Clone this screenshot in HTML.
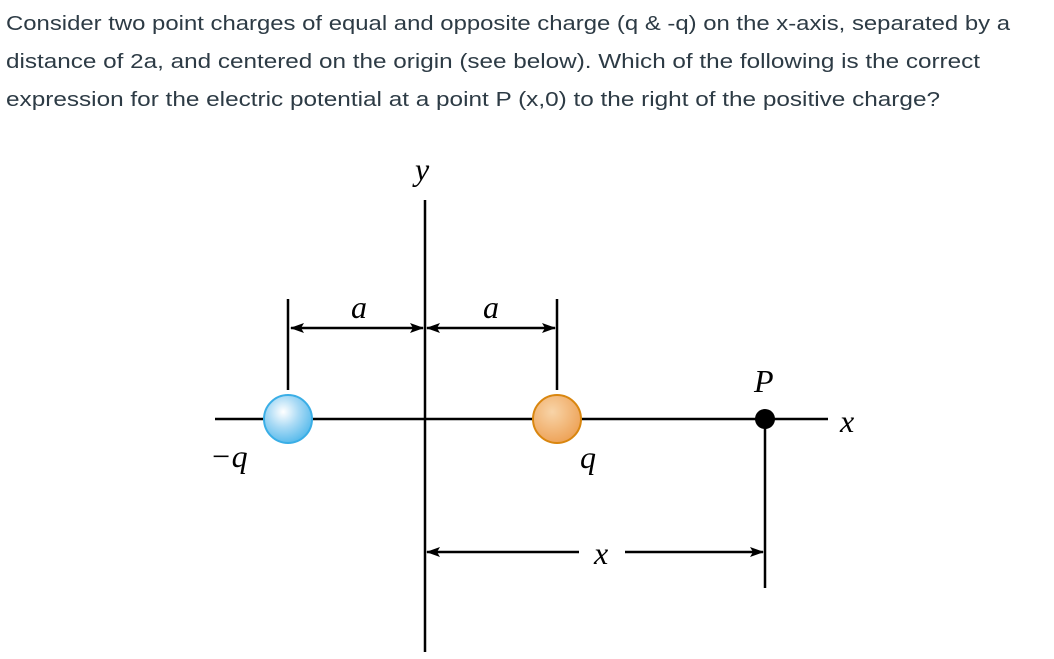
<!DOCTYPE html>
<html><head><meta charset="utf-8"><style>
html,body{margin:0;padding:0;background:#fff;}
svg{display:block;}
</style></head><body>
<svg width="1054" height="659" viewBox="0 0 1054 659" xmlns="http://www.w3.org/2000/svg">
<defs>
<radialGradient id="gb" cx="0.4" cy="0.35" r="0.65">
<stop offset="0" stop-color="#ffffff"/><stop offset="0.15" stop-color="#e6f4fc"/><stop offset="0.5" stop-color="#a9daf5"/><stop offset="1" stop-color="#5cbcec"/></radialGradient>
<radialGradient id="go" cx="0.4" cy="0.35" r="0.65">
<stop offset="0" stop-color="#f8d4a8"/><stop offset="1" stop-color="#eea45a"/></radialGradient>
<marker id="ah" markerWidth="14" markerHeight="10" refX="13" refY="5" orient="auto-start-reverse" markerUnits="userSpaceOnUse">
<path d="M0,0 L14,5 L0,10 L3,5 Z" fill="#000"/></marker>
</defs>
<g font-family="Liberation Sans, sans-serif" font-size="20" fill="#2d3b45">
<text x="6" y="30" textLength="1004" lengthAdjust="spacingAndGlyphs">Consider two point charges of equal and opposite charge (q &amp; -q) on the x-axis, separated by a</text>
<text x="6" y="68" textLength="974" lengthAdjust="spacingAndGlyphs">distance of 2a, and centered on the origin (see below). Which of the following is the correct</text>
<text x="6" y="106" textLength="934" lengthAdjust="spacingAndGlyphs">expression for the electric potential at a point P (x,0) to the right of the positive charge?</text>
</g>
<g stroke="#000" stroke-width="2.5" fill="none">
<line x1="425" y1="200" x2="425" y2="652"/>
<line x1="215" y1="419" x2="828" y2="419"/>
<line x1="288" y1="299" x2="288" y2="390"/>
<line x1="557" y1="299" x2="557" y2="390"/>
<line x1="291" y1="328" x2="423" y2="328" marker-start="url(#ah)" marker-end="url(#ah)"/>
<line x1="427" y1="328" x2="555" y2="328" marker-start="url(#ah)" marker-end="url(#ah)"/>
<line x1="765" y1="419" x2="765" y2="588"/>
<line x1="427" y1="552" x2="579" y2="552" marker-start="url(#ah)"/>
<line x1="625" y1="552" x2="763" y2="552" marker-end="url(#ah)"/>
</g>
<circle cx="288" cy="419" r="24" fill="url(#gb)" stroke="#3aaee6" stroke-width="2"/>
<circle cx="557" cy="419" r="24" fill="url(#go)" stroke="#d9860f" stroke-width="2"/>
<circle cx="765" cy="419" r="10" fill="#000"/>
<g font-family="Liberation Serif, serif" font-style="italic" font-size="32" fill="#000">
<text x="415" y="180">y</text>
<text x="351" y="318">a</text>
<text x="483" y="318">a</text>
<text x="754" y="392">P</text>
<text x="840" y="432">x</text>
<text x="210" y="467">−q</text>
<text x="580" y="468">q</text>
<text x="594" y="564">x</text>
</g>
</svg>
</body></html>
